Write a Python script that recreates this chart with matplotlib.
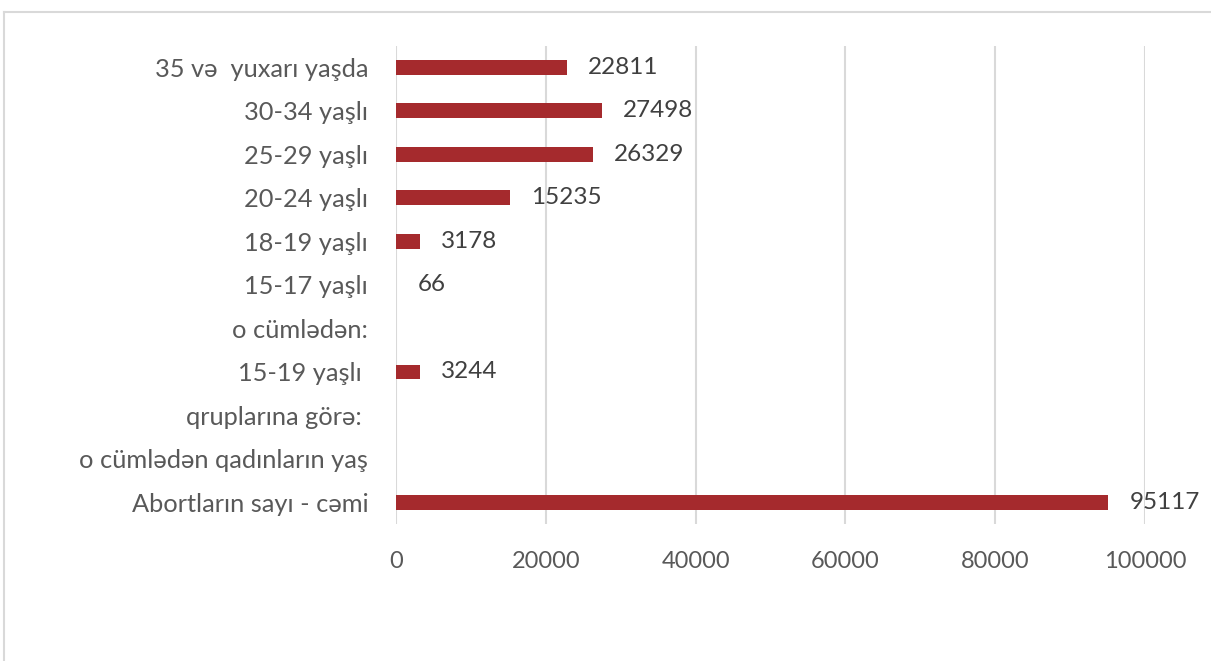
import matplotlib
matplotlib.use('Agg')
import matplotlib.pyplot as plt
from matplotlib.lines import Line2D

plt.rcParams['font.family'] = ['Lato', 'DejaVu Sans']

# categories from bottom to top
categories = ['Abortların sayı - cəmi', 'o cümlədən qadınların yaş', 'qruplarına görə: ',
              '15-19 yaşlı ', 'o cümlədən:', '15-17 yaşlı', '18-19 yaşlı',
              '20-24 yaşlı', '25-29 yaşlı', '30-34 yaşlı', '35 və  yuxarı yaşda']
values = [95117, None, None, 3244, None, 66, 3178, 15235, 26329, 27498, 22811]
xticks = [0, 20000, 40000, 60000, 80000, 100000]

bar_color = '#A52A2D'
text_color = '#595959'
grid_color = '#D9D9D9'

fig = plt.figure(figsize=(12.11, 6.61), dpi=100)
ax = fig.add_axes([0.327, 0.207, 0.6185, 0.724])

ypos = list(range(len(categories)))
widths = [v if v is not None else 0 for v in values]
bars = ax.barh(ypos, widths, height=0.34, color=bar_color, zorder=3)

labels = [str(v) if v is not None else '' for v in values]
ax.bar_label(bars, labels=labels, padding=15, fontsize=17.5, color='#404040')

ax.set_xlim(0, 100000)
ax.set_ylim(-0.5, len(categories) - 0.5)
ax.set_xticks(xticks)
ax.set_xticklabels([str(t) for t in xticks])
ax.set_yticks(ypos)
ax.set_yticklabels(categories)
ax.tick_params(axis='x', length=0, pad=19, labelsize=17, labelcolor=text_color)
ax.tick_params(axis='y', length=0, pad=20, labelsize=18.3, labelcolor=text_color)
ax.grid(axis='x', color=grid_color, linewidth=1.5, zorder=0)
for s in ax.spines.values():
    s.set_visible(False)

# outer chart border
fig.add_artist(Line2D([0.0033, 1.0], [0.982, 0.982], transform=fig.transFigure,
                      color=grid_color, linewidth=1.5))
fig.add_artist(Line2D([0.0033, 0.0033], [0.0, 0.982], transform=fig.transFigure,
                      color=grid_color, linewidth=1.5))

fig.savefig('out.png', dpi=100)
